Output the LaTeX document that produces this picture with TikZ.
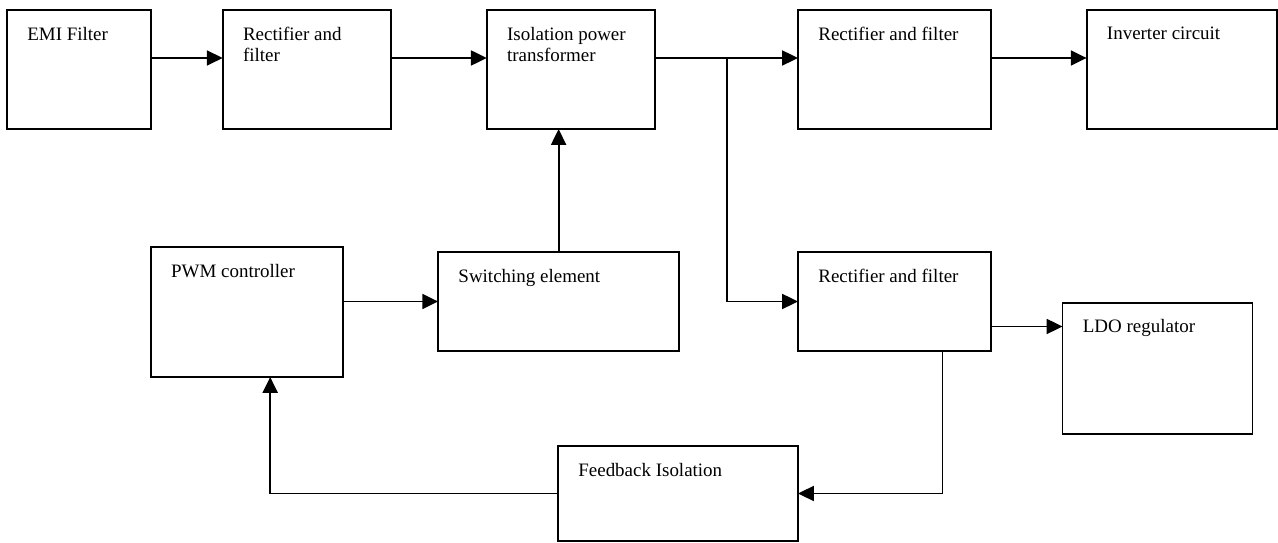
\documentclass[tikz,border=0pt]{standalone}
\usepackage{fontspec}
\setmainfont{Liberation Serif}
\usetikzlibrary{arrows.meta}

\begin{document}
\begin{tikzpicture}[x=0.02cm,y=-0.02cm,
  blk/.style 2 args={draw,line width=1.1pt,inner sep=0pt,outer sep=0pt,minimum width=#1*0.02cm,minimum height=#2*0.02cm},
  lbl/.style={anchor=north west,inner sep=0pt,xshift=0.4cm,yshift=-0.33cm,align=left,font=\fontsize{10.8}{12.3}\selectfont},
  arr/.style={-{Triangle[length=9pt,width=8.5pt]},line width=1.1pt}]
\useasboundingbox (0,0) rectangle (1278,543);
\node[blk={144}{119},label={[lbl]north west:EMI Filter}] (emi) at (79,69.5) {};
\node[blk={168}{119},label={[lbl]north west:Rectifier and\\filter}] (rf1) at (306.7,69.5) {};
\node[blk={168}{119},label={[lbl]north west:Isolation power\\transformer}] (iso) at (570.8,69.5) {};
\node[blk={193}{119},label={[lbl]north west:Rectifier and filter}] (rft) at (894.5,69.5) {};
\node[blk={190}{119},label={[lbl]north west:Inverter circuit}] (inv) at (1181.6,69.5) {};
\node[blk={192}{130},label={[lbl]north west:PWM controller}] (pwm) at (246.7,312) {};
\node[blk={241}{99},label={[lbl]north west:Switching element}] (sw) at (558.6,301.5) {};
\node[blk={193}{99},label={[lbl]north west:Rectifier and filter}] (rfb) at (894.5,301.5) {};
\node[blk={190}{131},label={[lbl]north west:LDO regulator}] (ldo) at (1157.5,368.3) {};
\node[blk={240}{95},label={[lbl]north west:Feedback Isolation}] (fb) at (678,493.5) {};
\coordinate (br) at (727,58);
\draw[arr] ([yshift=0.23cm]emi.east) -- ([yshift=0.23cm]rf1.west);
\draw[arr] ([yshift=0.23cm]rf1.east) -- ([yshift=0.23cm]iso.west);
\draw[arr] ([yshift=0.23cm]iso.east) -- ([yshift=0.23cm]rft.west);
\draw[arr] ([yshift=0.23cm]rft.east) -- ([yshift=0.23cm]inv.west);
\draw[arr] (br) |- (rfb.west);
\draw[arr] (sw.north) -- (sw.north |- iso.south);
\draw[arr] (pwm.east |- sw.west) -- (sw.west);
\draw[arr] ([yshift=-0.5cm]rfb.east) -- ([yshift=-0.5cm]rfb.east -| ldo.west);
\draw[arr] ([xshift=0.96cm]rfb.south) |- (fb.east);
\draw[arr] (fb.west) -| ([xshift=0.47cm]pwm.south);
\end{tikzpicture}
\end{document}
